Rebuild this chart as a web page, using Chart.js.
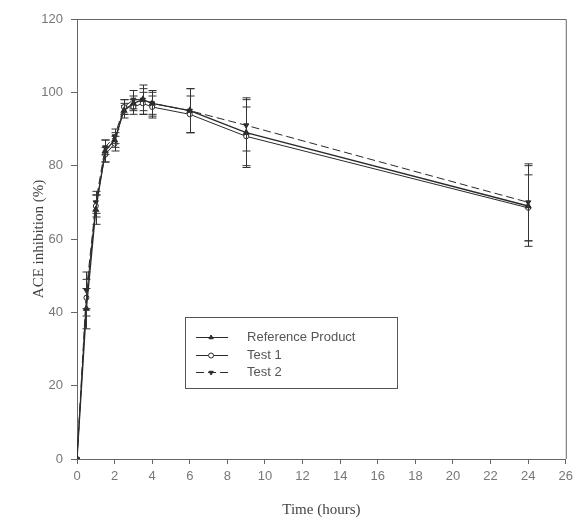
<!DOCTYPE html>
<html>
<head>
<meta charset="utf-8">
<script src="https://cdn.jsdelivr.net/npm/chart.js@4"></script>
<style>
  html, body { margin: 0; padding: 0; background: #fff; }
  #wrap { width: 578px; height: 523px; }
</style>
</head>
<body>
<div id="wrap"><canvas id="myChart" width="578" height="523"></canvas></div>
<script>
// sampling times (hours)
var times = [0, 0.5, 1, 1.5, 2, 2.5, 3, 3.5, 4, 6, 9, 24]
// mean ACE inhibition (%)
var refValues = [0, 41, 68, 84, 87, 95, 97, 98, 97, 95, 89, 69]
var test1Values = [0, 44, 69, 83, 86, 96, 96, 97, 96, 94, 88, 68.5]
var test2Values = [0, 46, 70, 85, 88, 96, 98, 98, 97, 95, 91, 70]
// standard deviations
var refErr = [0, 5.5, 4, 3, 2, 2, 2, 3, 3.5, 6, 9.5, 11]
var test1Err = [0, 5, 3, 2, 2, 2, 2, 3, 3, 5, 8, 9]
var test2Err = [0, 5, 3, 2, 2, 2, 2.5, 4, 3, 6, 7, 10.5]

var xTicks = [0, 2, 4, 6, 8, 10, 12, 14, 16, 18, 20, 22, 24, 26]
var yTicks = [0, 20, 40, 60, 80, 100, 120]

var seriesNames = ['Reference Product', 'Test 1', 'Test 2']

function toPoints(vals) {
    return times.map((t, i) => ({ x: t, y: vals[i] }))
}

var lineColor = '#2a2a2a'

var errorBars = {
    id: 'errorBars',
    afterDatasetsDraw(chart) {
        const ctx = chart.ctx
        const xs = chart.scales.x
        const ys = chart.scales.y
        const errs = [refErr, test1Err, test2Err]
        ctx.save()
        ctx.strokeStyle = '#333'
        ctx.lineWidth = 1
        chart.data.datasets.forEach((ds, d) => {
            ds.data.forEach((p, i) => {
                const e = errs[d][i]
                if (!e) return
                const px = Math.round(xs.getPixelForValue(p.x)) + 0.5
                const top = ys.getPixelForValue(p.y + e)
                const bot = ys.getPixelForValue(p.y - e)
                ctx.beginPath()
                ctx.moveTo(px, top)
                ctx.lineTo(px, bot)
                ctx.moveTo(px - 4, top)
                ctx.lineTo(px + 4, top)
                ctx.moveTo(px - 4, bot)
                ctx.lineTo(px + 4, bot)
                ctx.stroke()
            })
        })
        ctx.restore()
    }
}

var frameAndLegend = {
    id: 'frameAndLegend',
    afterDraw(chart) {
        const ctx = chart.ctx
        const a = chart.chartArea
        ctx.save()
        // box around plot
        ctx.strokeStyle = '#666'
        ctx.lineWidth = 1
        ctx.beginPath()
        ctx.moveTo(a.left, a.top + 0.5)
        ctx.lineTo(a.right + 0.5, a.top + 0.5)
        ctx.lineTo(a.right + 0.5, a.bottom)
        ctx.stroke()

        // legend box
        const xs = chart.scales.x
        const ys = chart.scales.y
        const bx = xs.getPixelForValue(5.75), by = ys.getPixelForValue(38.7)
        const bw = 212, bh = 71
        ctx.strokeStyle = '#555'
        ctx.strokeRect(Math.round(bx) + 0.5, Math.round(by) + 0.5, bw, bh)
        ctx.font = '13px "Liberation Sans", Arial, sans-serif'
        ctx.fillStyle = '#555'
        ctx.textBaseline = 'middle'
        chart.data.datasets.forEach((ds, i) => {
            const ly = Math.round(by + 20 + i * 17.5) + 0.5
            ctx.strokeStyle = lineColor
            ctx.lineWidth = 1
            ctx.setLineDash(ds.borderDash || [])
            ctx.beginPath()
            ctx.moveTo(bx + 11, ly)
            ctx.lineTo(bx + 43, ly)
            ctx.stroke()
            ctx.setLineDash([])
            // marker
            ctx.fillStyle = ds.pointBackgroundColor
            ctx.strokeStyle = lineColor
            Chart.helpers.drawPoint(ctx, {
                pointStyle: ds.pointStyle,
                rotation: ds.pointRotation || 0,
                radius: 2.5,
                borderWidth: 1
            }, bx + 26, ly)
            ctx.fillStyle = '#555'
            ctx.fillText(seriesNames[i], bx + 62, ly)
        })
        ctx.restore()
    }
}

var ctx = document.getElementById('myChart').getContext('2d')
var myChart = new Chart(ctx, {
    type: 'line',
    data: {
        datasets: [{
            label: seriesNames[0],
            data: toPoints(refValues),
            borderColor: lineColor,
            borderWidth: 1.3,
            pointStyle: 'triangle',
            pointRadius: 3,
            pointBackgroundColor: lineColor,
            pointBorderColor: lineColor,
            tension: 0
        }, {
            label: seriesNames[1],
            data: toPoints(test1Values),
            borderColor: lineColor,
            borderWidth: 1,
            pointStyle: 'circle',
            pointRadius: 2.5,
            pointBackgroundColor: '#fff',
            pointBorderColor: lineColor,
            tension: 0
        }, {
            label: seriesNames[2],
            data: toPoints(test2Values),
            borderColor: lineColor,
            borderWidth: 1,
            borderDash: [8, 4],
            pointStyle: 'triangle',
            pointRotation: 180,
            pointRadius: 3,
            pointBackgroundColor: lineColor,
            pointBorderColor: lineColor,
            tension: 0
        }]
    },
    options: {
        responsive: false,
        animation: false,
        layout: { padding: { top: 19, right: 9, left: 26, bottom: 0 } },
        plugins: {
            legend: { display: false },
            tooltip: { enabled: false }
        },
        scales: {
            x: {
                type: 'linear',
                min: 0,
                max: 26,
                afterBuildTicks: s => { s.ticks = xTicks.map(v => ({ value: v })) },
                afterFit: s => { s.height = 64 },
                grid: { drawOnChartArea: false, tickLength: 5, color: '#666' },
                border: { color: '#666' },
                ticks: { color: '#777', padding: 5, maxRotation: 0,
                    font: { family: '"Liberation Sans", Arial, sans-serif', size: 13 } },
                title: { display: true, text: 'Time (hours)', color: '#444', padding: { top: 14 },
                    font: { family: '"Liberation Serif", "Times New Roman", serif', size: 15 } }
            },
            y: {
                min: 0,
                max: 120,
                afterBuildTicks: s => { s.ticks = yTicks.map(v => ({ value: v })) },
                afterFit: s => { s.width = 51 },
                grid: { drawOnChartArea: false, tickLength: 6, color: '#666' },
                border: { color: '#666' },
                ticks: { color: '#777', padding: 8,
                    font: { family: '"Liberation Sans", Arial, sans-serif', size: 13 } },
                title: { display: true, text: 'ACE inhibition (%)', color: '#444', padding: { bottom: 0 },
                    font: { family: '"Liberation Serif", "Times New Roman", serif', size: 15 } }
            }
        }
    },
    plugins: [errorBars, frameAndLegend]
})
</script>
</body>
</html>
